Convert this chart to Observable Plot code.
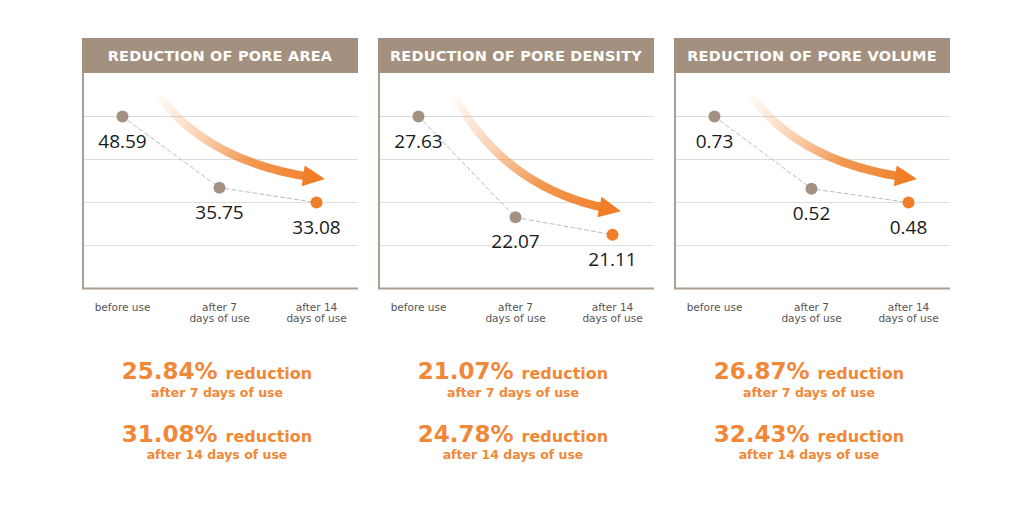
<!DOCTYPE html>
<html><head><meta charset="utf-8">
<script src="https://cdn.jsdelivr.net/npm/d3@7"></script>
<script src="https://cdn.jsdelivr.net/npm/@observablehq/plot@0.6"></script>
<style>
body{margin:0;background:#fff;}
#root{position:relative;width:1024px;height:505px;overflow:hidden;font-family:"DejaVu Sans",sans-serif;}
.hdr{position:absolute;top:38px;height:35px;background:#a4907e;color:#fff;font-weight:bold;font-size:14.5px;letter-spacing:0.2px;display:flex;align-items:center;justify-content:center;white-space:nowrap;}
.chart{position:absolute;top:73px;}
.pct{position:absolute;text-align:center;color:#f08838;font-weight:bold;white-space:nowrap;}
.big{font-size:23px;line-height:28px;height:28px;}
.big span{font-size:16px;}
.small{font-size:12.5px;line-height:16px;height:16px;}
</style></head><body><div id="root"></div>
<script>
// ---- data ----
const titles = ["REDUCTION OF PORE AREA", "REDUCTION OF PORE DENSITY", "REDUCTION OF PORE VOLUME"];
const stages = ["before use", "after 7\ndays of use", "after 14\ndays of use"];
const poreArea = [48.59, 35.75, 33.08];
const poreDensity = [27.63, 22.07, 21.11];
const poreVolume = [0.73, 0.52, 0.48];
const reduction7 = [25.84, 21.07, 26.87];
const reduction14 = [31.08, 24.78, 32.43];
const yDomains = [[17.57, 56.345], [18.146, 30.0], [0.23, 0.855]];

const series = [poreArea, poreDensity, poreVolume];
const panelLeft = [82, 378, 674];
const PW = 276;
const brown = "#a39282", orange = "#f07e26", borderC = "#ab9e92";
const fmt = d3.format(".2f");
const root = document.getElementById("root");

function leftBorder(index, scales, values, dims) {
  return d3.create("svg:line")
    .attr("x1", 1).attr("x2", 1).attr("y1", 0)
    .attr("y2", dims.height - dims.marginBottom + 1)
    .attr("stroke", borderC).attr("stroke-width", 2).node();
}

function arrowMark(vals, id) {
  return (index, scales, values, dims) => {
    const x = scales.x, y = scales.y;
    const S = [x(stages[0]) + 36, y(vals[0]) - 21];
    const T = [x(stages[2]) + 9, y(vals[2]) - 23];
    const dx = T[0] - S[0], dy = T[1] - S[1];
    const C = [S[0] + 0.3 * dx, S[1] + 0.8 * dy];
    let ux = T[0] - C[0], uy = T[1] - C[1];
    const L = Math.hypot(ux, uy); ux /= L; uy /= L;
    const E = [T[0] - 12 * ux, T[1] - 12 * uy];
    const B = [T[0] - 22 * ux, T[1] - 22 * uy];
    const px = -uy, py = ux, hw = 10.5;
    const g = d3.create("svg:g");
    const grad = g.append("defs").append("linearGradient")
      .attr("id", id).attr("gradientUnits", "userSpaceOnUse")
      .attr("x1", S[0]).attr("y1", S[1]).attr("x2", T[0]).attr("y2", T[1]);
    [[0, 0.02], [0.3, 0.35], [0.6, 0.8], [1, 1]].forEach(([o, a]) =>
      grad.append("stop").attr("offset", o).attr("stop-color", orange).attr("stop-opacity", a));
    g.append("path")
      .attr("d", `M${S[0]},${S[1]}Q${C[0]},${C[1]} ${E[0]},${E[1]}`)
      .attr("fill", "none").attr("stroke", `url(#${id})`).attr("stroke-width", 8.5);
    g.append("path")
      .attr("d", `M${T[0]},${T[1]}L${B[0] + px * hw},${B[1] + py * hw}L${B[0] - px * hw},${B[1] - py * hw}Z`)
      .attr("fill", orange);
    return g.node();
  };
}

series.forEach((vals, k) => {
  const left = panelLeft[k];
  const hdr = document.createElement("div");
  hdr.className = "hdr";
  hdr.style.left = left + "px"; hdr.style.width = PW + "px";
  hdr.textContent = titles[k];
  root.appendChild(hdr);

  const rows = stages.map((s, i) => ({stage: s, value: vals[i], i}));
  const [lo, hi] = yDomains[k];
  const grid = d3.range(1, 5).map(i => hi - (hi - lo) * i / 5);

  const chart = Plot.plot({
    width: PW, height: 255,
    marginTop: 0, marginRight: 0, marginBottom: 40, marginLeft: 0,
    x: {type: "point", domain: stages, padding: 0, insetLeft: 39, insetRight: 42, axis: null},
    y: {domain: yDomains[k], axis: null},
    style: {background: "transparent", fontFamily: "DejaVu Sans, sans-serif"},
    marks: [
      Plot.ruleY(grid, {stroke: "#dddddd", strokeWidth: 1}),
      Plot.ruleY([lo], {stroke: borderC, strokeWidth: 2}),
      leftBorder,
      arrowMark(vals, "grad" + k),
      Plot.line(rows, {x: "stage", y: "value", stroke: "#bcbcbc", strokeWidth: 1, strokeDasharray: "4,3"}),
      Plot.dot(rows, {x: "stage", y: "value", r: 6, fill: brown, filter: d => d.i < 2}),
      Plot.dot(rows, {x: "stage", y: "value", r: 6, fill: orange, filter: d => d.i === 2}),
      Plot.text(rows, {x: "stage", y: "value", text: d => fmt(d.value), dy: 25, fontSize: 19, fill: "#1a1a1a", fontFamily: "Open Sans, sans-serif"}),
      Plot.text(rows, {x: "stage", text: "stage", frameAnchor: "bottom", lineAnchor: "top", dy: 15, lineHeight: 1.05, fontSize: 10.5, fill: "#555"})
    ]
  });
  chart.classList.add("chart");
  chart.style.left = left + "px";
  root.appendChild(chart);

  const pl = left - 3;
  const lines = [
    {cls: "big", top: 357, html: `${fmt(reduction7[k])}% <span>reduction</span>`},
    {cls: "small", top: 385, html: "after 7 days of use"},
    {cls: "big", top: 420, html: `${fmt(reduction14[k])}% <span>reduction</span>`},
    {cls: "small", top: 447, html: "after 14 days of use"}
  ];
  lines.forEach(l => {
    const d = document.createElement("div");
    d.className = "pct " + l.cls;
    d.style.left = pl + "px"; d.style.width = PW + "px"; d.style.top = l.top + "px";
    d.innerHTML = l.html;
    root.appendChild(d);
  });
});
</script></body></html>
